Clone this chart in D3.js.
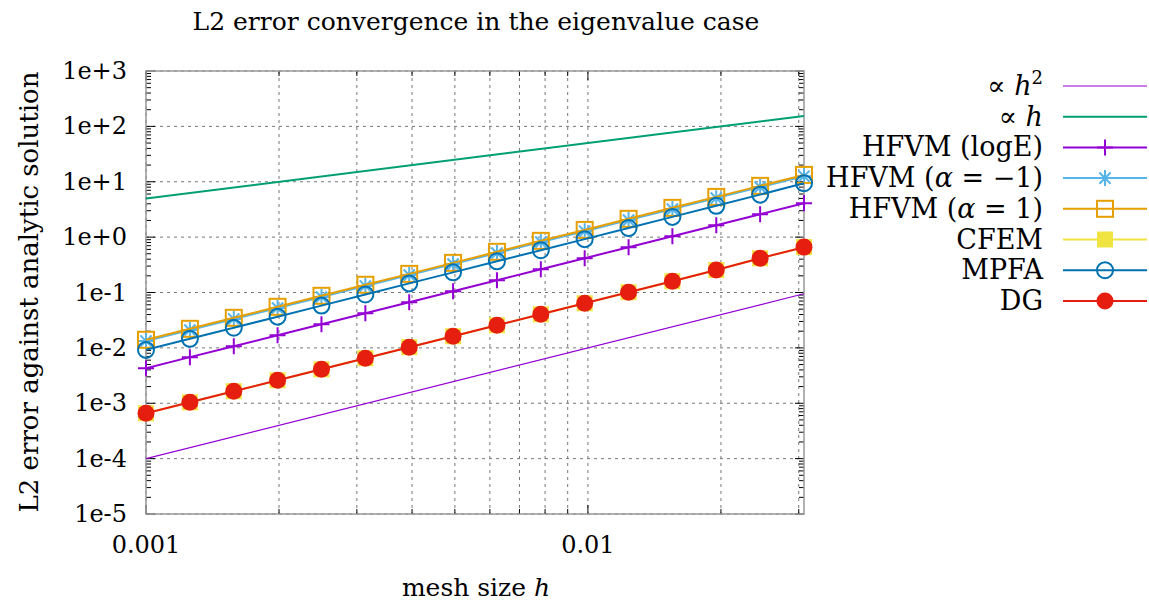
<!DOCTYPE html>
<html>
<head>
<meta charset="utf-8">
<script src="https://cdnjs.cloudflare.com/ajax/libs/d3/7.8.5/d3.min.js"></script>
<style>
  body { margin: 0; background: #fff; }
  svg text { font-family: "DejaVu Serif", serif; }
</style>
</head>
<body>
<svg id="chart"></svg>
<script>
const width = 1149;
const height = 601;

// mesh sizes h
const meshH = [0.001, 0.001257, 0.00158, 0.001985, 0.002495, 0.003136, 0.003941, 0.004953,
    0.006225, 0.007824, 0.009833, 0.01236, 0.01553, 0.01952, 0.02453, 0.03083];

const errLogE   = [0.0043, 0.0068, 0.0107, 0.0169, 0.0268, 0.0423, 0.0668, 0.105, 0.167, 0.263, 0.416, 0.657, 1.04, 1.64, 2.59, 4.09];
const errAlphaM = [0.0133, 0.021, 0.0332, 0.0524, 0.0828, 0.131, 0.206, 0.326, 0.516, 0.814, 1.28, 2.03, 3.21, 5.06, 8.0, 12.6];
const errAlphaP = [0.014, 0.0221, 0.0349, 0.0552, 0.0872, 0.138, 0.217, 0.343, 0.543, 0.857, 1.35, 2.14, 3.38, 5.33, 8.43, 13.3];
const errCFEM   = [0.00066, 0.00104, 0.00165, 0.0026, 0.0041, 0.0065, 0.0103, 0.0162, 0.0256, 0.0404, 0.064, 0.101, 0.16, 0.255, 0.415, 0.66];
const errMPFA   = [0.0092, 0.0146, 0.0231, 0.0366, 0.058, 0.092, 0.146, 0.231, 0.366, 0.58, 0.92, 1.46, 2.32, 3.68, 5.85, 9.4];
const errDG     = [0.00066, 0.00104, 0.00165, 0.0026, 0.0041, 0.0065, 0.0103, 0.0162, 0.0256, 0.0404, 0.064, 0.101, 0.16, 0.255, 0.415, 0.66];

// reference slopes, end points only (straight lines in log-log)
const refH  = [0.001, 0.03083];
const refH2 = [0.0001, 0.095];
const refH1 = [5.0, 154];

const xDomain = [0.001, 0.03083];
const yDomain = [1e-5, 1e3];
const yTicks = [1e-5, 1e-4, 1e-3, 1e-2, 1e-1, 1e0, 1e1, 1e2, 1e3];
const yTickLabels = ["1e-5", "1e-4", "1e-3", "1e-2", "1e-1", "1e+0", "1e+1", "1e+2", "1e+3"];
const xTicks = [0.001, 0.01];
const xTickLabels = ["0.001", "0.01"];

const plot = { left: 146, right: 804, top: 71, bottom: 514 };
const FONT = "DejaVu Serif";

const svg = d3.select("#chart").attr("width", width).attr("height", height);

const x = d3.scaleLog().domain(xDomain).range([plot.left, plot.right]);
const y = d3.scaleLog().domain(yDomain).range([plot.bottom, plot.top]);

// minor ticks for each decade
const xMinor = [];
[0.001, 0.01].forEach(d => { for (let k = 2; k <= 9; k++) if (d * k <= xDomain[1]) xMinor.push(d * k); });
const yMinor = [];
yTicks.slice(0, -1).forEach(d => { for (let k = 2; k <= 9; k++) yMinor.push(d * k); });

// grid
const grid = svg.append("g").attr("stroke", "#777").attr("stroke-width", 1).attr("stroke-dasharray", "3,4");
grid.selectAll(".gx").data(xTicks.concat(xMinor)).enter().append("line")
    .attr("x1", d => x(d)).attr("x2", d => x(d))
    .attr("y1", plot.top).attr("y2", plot.bottom);
grid.selectAll(".gy").data(yTicks).enter().append("line")
    .attr("x1", plot.left).attr("x2", plot.right)
    .attr("y1", d => y(d)).attr("y2", d => y(d));

// ticks (inward, mirrored)
const ticks = svg.append("g").attr("stroke", "#000").attr("stroke-width", 1);
const tickX = (vals, len) => {
    vals.forEach(v => {
        ticks.append("line").attr("x1", x(v)).attr("x2", x(v)).attr("y1", plot.bottom).attr("y2", plot.bottom - len);
        ticks.append("line").attr("x1", x(v)).attr("x2", x(v)).attr("y1", plot.top).attr("y2", plot.top + len);
    });
};
const tickY = (vals, len) => {
    vals.forEach(v => {
        ticks.append("line").attr("y1", y(v)).attr("y2", y(v)).attr("x1", plot.left).attr("x2", plot.left + len);
        ticks.append("line").attr("y1", y(v)).attr("y2", y(v)).attr("x1", plot.right).attr("x2", plot.right - len);
    });
};
tickX(xTicks, 9); tickX(xMinor, 5);
tickY(yTicks, 9); tickY(yMinor, 5);

// frame
svg.append("rect")
    .attr("x", plot.left).attr("y", plot.top)
    .attr("width", plot.right - plot.left).attr("height", plot.bottom - plot.top)
    .attr("fill", "none").attr("stroke", "#999").attr("stroke-width", 1.5);

// tick labels
svg.append("g").selectAll("text").data(yTicks).enter().append("text")
    .attr("x", 127).attr("y", d => y(d) + 8)
    .attr("text-anchor", "end").attr("font-size", 24).attr("font-family", FONT)
    .text((d, i) => yTickLabels[i]);
svg.append("g").selectAll("text").data(xTicks).enter().append("text")
    .attr("x", d => x(d)).attr("y", 553)
    .attr("text-anchor", "middle").attr("font-size", 24).attr("font-family", FONT)
    .text((d, i) => xTickLabels[i]);

// titles
svg.append("text").attr("x", 476).attr("y", 30).attr("text-anchor", "middle")
    .attr("font-size", 25).attr("font-family", FONT).text("L2 error convergence in the eigenvalue case");
const xl = svg.append("text").attr("x", 476).attr("y", 596).attr("text-anchor", "middle")
    .attr("font-size", 25).attr("font-family", FONT);
xl.append("tspan").text("mesh size ");
xl.append("tspan").attr("font-style", "italic").text("h");
svg.append("text").attr("transform", "translate(38,292) rotate(-90)")
    .attr("text-anchor", "middle").attr("font-size", 26).attr("font-family", FONT)
    .text("L2 error against analytic solution");

// markers
function drawMarker(g, type, color) {
    const s = 8;
    if (type === "plus") {
        g.append("path").attr("d", `M${-s},0H${s}M0,${-s}V${s}`).attr("stroke", color).attr("stroke-width", 2).attr("fill", "none");
    } else if (type === "star") {
        const a = s * 0.7;
        g.append("path").attr("d", `M${-s},0H${s}M0,${-s}V${s}M${-a},${-a}L${a},${a}M${-a},${a}L${a},${-a}`)
            .attr("stroke", color).attr("stroke-width", 2).attr("fill", "none");
    } else if (type === "square") {
        g.append("rect").attr("x", -8).attr("y", -8).attr("width", 16).attr("height", 16)
            .attr("fill", "none").attr("stroke", color).attr("stroke-width", 2);
    } else if (type === "fsquare") {
        g.append("rect").attr("x", -8).attr("y", -8).attr("width", 16).attr("height", 16).attr("fill", color);
    } else if (type === "circle") {
        g.append("circle").attr("r", 8).attr("fill", "none").attr("stroke", color).attr("stroke-width", 2);
    } else if (type === "fcircle") {
        g.append("circle").attr("r", 8.5).attr("fill", color);
    }
}

const series = [
    { label: ["∝ ", { i: "h" }, { sup: "2" }], xs: refH, ys: refH2, color: "#9400d3", width: 1.2, marker: null },
    { label: ["∝ ", { i: "h" }], xs: refH, ys: refH1, color: "#009e73", width: 2, marker: null },
    { label: ["HFVM (logE)"], xs: meshH, ys: errLogE, color: "#9400d3", width: 2, marker: "plus" },
    { label: ["HFVM (", { i: "α" }, " = −1)"], xs: meshH, ys: errAlphaM, color: "#56b4e9", width: 2, marker: "star" },
    { label: ["HFVM (", { i: "α" }, " = 1)"], xs: meshH, ys: errAlphaP, color: "#e69f00", width: 2, marker: "square" },
    { label: ["CFEM"], xs: meshH, ys: errCFEM, color: "#f0e442", width: 2, marker: "fsquare" },
    { label: ["MPFA"], xs: meshH, ys: errMPFA, color: "#0072b2", width: 2, marker: "circle" },
    { label: ["DG"], xs: meshH, ys: errDG, color: "#e51e10", width: 2, marker: "fcircle" }
];

svg.append("defs").append("clipPath").attr("id", "clip").append("rect")
    .attr("x", plot.left).attr("y", plot.top)
    .attr("width", plot.right - plot.left).attr("height", plot.bottom - plot.top);

const line = d3.line().x(d => x(d[0])).y(d => y(d[1]));
const legendX = 1043, legendY0 = 86, legendStep = 30.7;

series.forEach((s, si) => {
    const pts = s.xs.map((v, i) => [v, s.ys[i]]);
    svg.append("path").datum(pts).attr("d", line)
        .attr("clip-path", "url(#clip)")
        .attr("fill", "none").attr("stroke", s.color).attr("stroke-width", s.width);
    if (s.marker) {
        pts.forEach(p => {
            const g = svg.append("g").attr("transform", `translate(${x(p[0])},${y(p[1])})`);
            drawMarker(g, s.marker, s.color);
        });
    }
    // legend entry
    const ly = legendY0 + si * legendStep;
    const t = svg.append("text").attr("x", legendX).attr("y", ly + 9)
        .attr("text-anchor", "end").attr("font-size", 27).attr("font-family", FONT);
    s.label.forEach(part => {
        if (typeof part === "string") t.append("tspan").text(part);
        else if (part.i) t.append("tspan").attr("font-style", "italic").text(part.i);
        else if (part.sup) t.append("tspan").attr("font-size", 18).attr("dy", -11).text(part.sup);
    });
    svg.append("line").attr("x1", 1063).attr("x2", 1147).attr("y1", ly).attr("y2", ly)
        .attr("stroke", s.color).attr("stroke-width", s.width);
    if (s.marker) {
        const g = svg.append("g").attr("transform", `translate(1105,${ly})`);
        drawMarker(g, s.marker, s.color);
    }
});
</script>
</body>
</html>
